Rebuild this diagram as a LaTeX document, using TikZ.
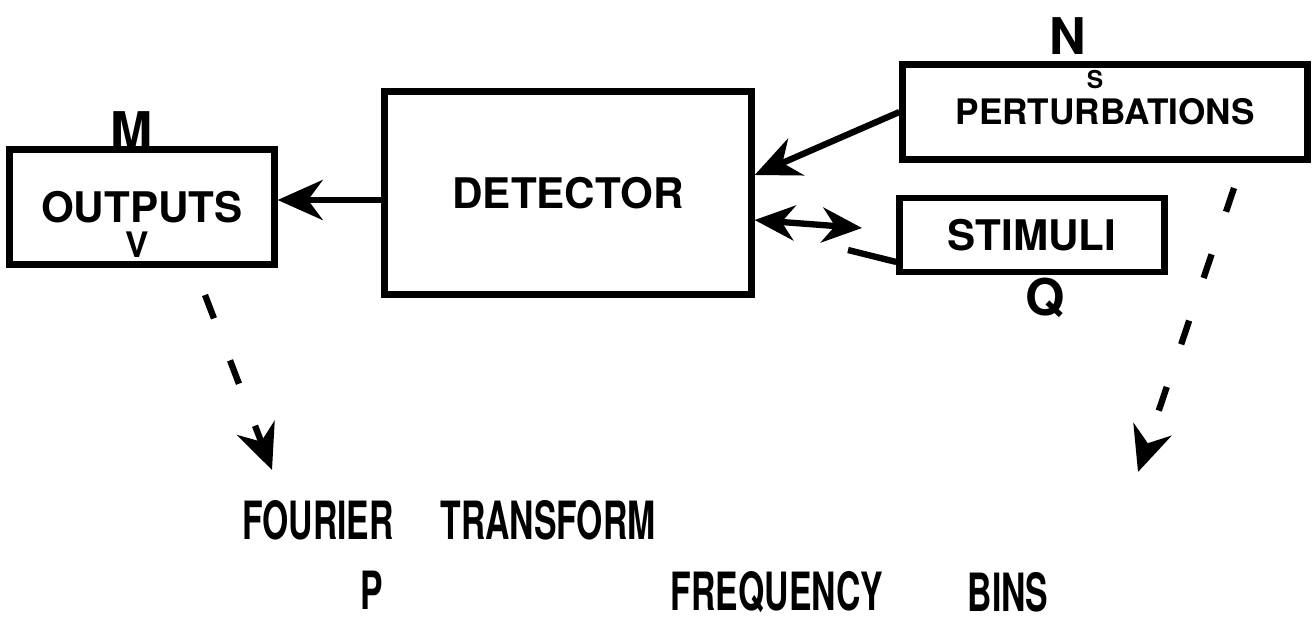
\documentclass[tikz,border=0pt]{standalone}
\usepackage{fontspec}
\setmainfont{TeX Gyre Heros}
\usetikzlibrary{arrows.meta}

\begin{document}
\begin{tikzpicture}[line width=1.8pt,
  box/.style={draw=black,rectangle,inner sep=0pt,font=\bfseries\large},
  hand/.style={font=\bfseries\large,xscale=0.8,yscale=1.25},
  letter/.style={font=\bfseries\Large},
  link/.style={-{Stealth[length=4.5mm,width=4mm]}},
  dashlink/.style={link,dash pattern=on 2.5mm off 4.5mm}]
\useasboundingbox (0,0) rectangle (13.14,-6.35);

% boxes
\node[box,minimum width=2.65cm,minimum height=1.15cm] (outputs) at (1.42,-2.07) {OUTPUTS};
\node[box,minimum width=3.67cm,minimum height=2.03cm] (detector) at (5.68,-1.93) {DETECTOR};
\node[box,font=\bfseries,minimum width=4.05cm,minimum height=0.95cm] (perturb) at (11.05,-1.12) {PERTURBATIONS};
\node[box,minimum width=2.65cm,minimum height=0.74cm] (stimuli) at (10.32,-2.35) {STIMULI};

% labels
\node[letter] (m) at (1.32,-1.30) {M};
\node[letter] (n) at (10.68,-0.36) {N};
\node[font=\bfseries\scriptsize] (s) at (10.95,-0.80) {S};
\node[letter] (q) at (10.45,-2.98) {Q};
\node[font=\bfseries] (v) at (1.37,-2.45) {V};

% connectors
\draw[link] (detector.west |- 0,-2.0) -- (outputs.east |- 0,-2.0);
\draw[link] (perturb.west) -- (detector.east |- 0,-1.75);
\coordinate (gap1) at (8.62,-2.28);
\coordinate (gap2) at (8.48,-2.50);
\draw[{Stealth[length=4mm,width=3.5mm]}-{Stealth[length=4mm,width=3.5mm]}] (detector.east |- 0,-2.2) -- (gap1);
\draw (gap2) -- (stimuli.west |- 0,-2.62);

% Fourier transform
\node[hand] (fourier) at (3.18,-5.20) {FOURIER};
\node[hand] (transform) at (5.48,-5.20) {TRANSFORM};
\node[hand] (p) at (3.72,-5.90) {P};
\node[hand] (frequency) at (7.77,-5.92) {FREQUENCY};
\node[hand] (bins) at (10.08,-5.92) {BINS};

\coordinate (ftin) at (2.72,-4.70);
\coordinate (binsin) at (11.38,-4.72);
\draw[dashlink] (2.05,-2.95) -- (ftin);
\draw[dashlink] (12.34,-1.88) -- (binsin);
\end{tikzpicture}
\end{document}
